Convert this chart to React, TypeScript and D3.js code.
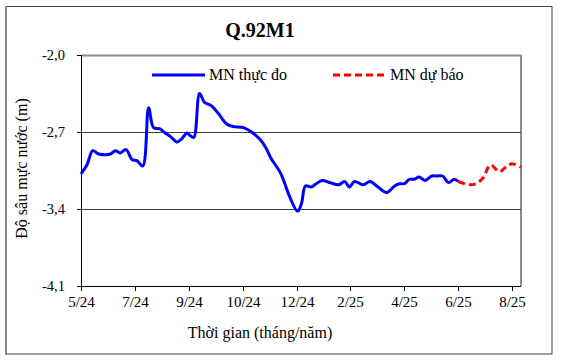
import React from "react";
import * as d3 from "d3";

const TITLE = "Q.92M1";
const Y_TITLE = "Độ sâu mực nước (m)";
const X_TITLE = "Thời gian (tháng/năm)";
const LEGEND_MEASURED = "MN thực đo";
const LEGEND_FORECAST = "MN dự báo";

const X_START = "2024-05-19";
const X_END = "2025-08-11";
const X_TICKS = [
  "2024-05-19", "2024-07-13", "2024-09-06", "2024-10-31", "2024-12-25",
  "2025-02-18", "2025-04-14", "2025-06-08", "2025-08-02",
];
const Y_TICKS = [-2.0, -2.7, -3.4, -4.1];

const MEASURED_DATES = [
  "2024-05-19", "2024-05-25", "2024-05-31", "2024-06-06", "2024-06-18", "2024-06-23",
  "2024-06-28", "2024-07-04", "2024-07-10", "2024-07-15", "2024-07-21", "2024-07-27",
  "2024-08-01", "2024-08-07", "2024-08-13", "2024-08-18", "2024-08-25", "2024-08-30",
  "2024-09-04", "2024-09-07", "2024-09-11", "2024-09-17", "2024-09-22", "2024-09-29",
  "2024-10-06", "2024-10-15", "2024-10-21", "2024-11-01", "2024-11-09", "2024-11-18",
  "2024-11-24", "2024-11-29", "2024-12-09", "2024-12-18", "2024-12-26", "2024-12-30",
  "2025-01-03", "2025-01-09", "2025-01-14", "2025-01-20", "2025-01-28", "2025-02-06",
  "2025-02-12", "2025-02-17", "2025-02-22", "2025-03-03", "2025-03-10", "2025-03-18",
  "2025-03-27", "2025-04-04", "2025-04-09", "2025-04-14", "2025-04-19", "2025-04-24",
  "2025-04-29", "2025-05-05", "2025-05-12", "2025-05-17", "2025-05-23", "2025-05-29",
  "2025-06-04", "2025-06-08",
];
const MEASURED_VALUES = [
  -3.08, -3.0, -2.87, -2.9, -2.9, -2.87,
  -2.89, -2.86, -2.95, -2.96, -3.01, -2.48,
  -2.66, -2.67, -2.71, -2.74, -2.79, -2.76,
  -2.71, -2.73, -2.75, -2.35, -2.43, -2.46,
  -2.53, -2.63, -2.65, -2.66, -2.7, -2.77,
  -2.85, -2.94, -3.08, -3.29, -3.42, -3.35,
  -3.19, -3.2, -3.17, -3.14, -3.16, -3.18,
  -3.15, -3.2, -3.15, -3.18, -3.15, -3.2,
  -3.25, -3.19, -3.17, -3.17, -3.13, -3.13,
  -3.11, -3.14, -3.1, -3.1, -3.1, -3.16,
  -3.13, -3.15,
];

const FORECAST_DATES = [
  "2025-06-08", "2025-06-19", "2025-06-26", "2025-07-03", "2025-07-11",
  "2025-07-20", "2025-07-29", "2025-08-03", "2025-08-11",
];
const FORECAST_VALUES = [-3.15, -3.18, -3.17, -3.12, -3.0, -3.06, -3.0, -2.99, -3.02];

const W = 563;
const H = 361;
const M = { left: 81, right: 521, top: 55, bottom: 286 };
const FONT = "'Liberation Serif', 'Times New Roman', serif";
const TS: React.CSSProperties = { fontFamily: FONT };

export default function App() {
  const parse = (s: string) => new Date(s + "T00:00:00Z");
  const x = d3.scaleUtc().domain([parse(X_START), parse(X_END)]).range([M.left, M.right]);
  const y = d3.scaleLinear().domain([-4.1, -2.0]).range([M.bottom, M.top]);
  const fmtX = d3.utcFormat("%-m/%y");
  const fmtY = (v: number) => v.toFixed(1).replace(".", ",");

  const line = d3
    .line<[Date, number]>()
    .x((d) => x(d[0]))
    .y((d) => y(d[1]))
    .curve(d3.curveCatmullRom.alpha(0.5));

  const measured = MEASURED_DATES.map((d, i) => [parse(d), MEASURED_VALUES[i]] as [Date, number]);
  const forecast = FORECAST_DATES.map((d, i) => [parse(d), FORECAST_VALUES[i]] as [Date, number]);

  const titleX = 260;

  return (
    <svg width={W} height={H} style={{ position: "absolute", left: 0, top: 0, background: "#fff", fontFamily: FONT }}>
      <rect x={0} y={0} width={W} height={H} fill="#fff" />
      <rect x={6.5} y={6.5} width={545.5} height={347.5} fill="none" stroke="#444" strokeWidth={1} />
      <line x1={6} x2={6} y1={6} y2={355} stroke="#888" strokeWidth={2} />

      <text x={titleX} y={37} textAnchor="middle" fontSize={20} fontWeight="bold" fill="#000" style={TS}>{TITLE}</text>

      <line x1={M.left} x2={M.right} y1={M.top + 0.5} y2={M.top + 0.5} stroke="#8c8c8c" strokeWidth={2} />
      <line x1={M.right} x2={M.right} y1={M.top} y2={M.bottom} stroke="#8c8c8c" strokeWidth={2} />

      {Y_TICKS.filter((v) => v !== -2.0 && v !== -4.1).map((v) => (
        <line key={v} x1={M.left} x2={M.right} y1={Math.round(y(v)) + 0.5} y2={Math.round(y(v)) + 0.5} stroke="#404040" strokeWidth={1} />
      ))}

      <line x1={M.left + 0.5} x2={M.left + 0.5} y1={M.top} y2={M.bottom + 1} stroke="#000" strokeWidth={1} />
      {Y_TICKS.map((v) => (
        <g key={v}>
          <line x1={M.left - 4} x2={M.left} y1={Math.round(y(v)) + 0.5} y2={Math.round(y(v)) + 0.5} stroke="#000" />
          <text x={65} y={y(v) + 5} textAnchor="end" fontSize={14.5} fill="#000" style={TS}>{fmtY(v)}</text>
        </g>
      ))}

      <line x1={M.left} x2={M.right} y1={M.bottom + 0.5} y2={M.bottom + 0.5} stroke="#000" strokeWidth={1} />
      {X_TICKS.map((t) => {
        const px = Math.round(x(parse(t))) + 0.5;
        return (
          <g key={t}>
            <line x1={px} x2={px} y1={M.bottom} y2={M.bottom + 5} stroke="#000" />
            <text x={px} y={307} textAnchor="middle" fontSize={15} fill="#000" style={TS}>{fmtX(parse(t))}</text>
          </g>
        );
      })}

      <text x={titleX} y={338} textAnchor="middle" fontSize={16} fill="#000" style={TS}>{X_TITLE}</text>
      <text transform={`translate(27, ${(M.top + M.bottom) / 2 - 2}) rotate(-90)`} textAnchor="middle" fontSize={16} fill="#000" style={TS}>{Y_TITLE}</text>

      <path d={line(measured) || ""} fill="none" stroke="#0000ff" strokeWidth={3} strokeLinejoin="round" />
      <path d={line(forecast) || ""} fill="none" stroke="#ff0000" strokeWidth={3} strokeDasharray="7,4" />

      <line x1={152} x2={205} y1={75} y2={75} stroke="#0000ff" strokeWidth={3} />
      <text x={209} y={80} fontSize={16} fill="#000" style={TS}>{LEGEND_MEASURED}</text>
      <line x1={333} x2={386} y1={75} y2={75} stroke="#ff0000" strokeWidth={3} strokeDasharray="7,4" />
      <text x={390} y={80} fontSize={16} fill="#000" style={TS}>{LEGEND_FORECAST}</text>
    </svg>
  );
}
